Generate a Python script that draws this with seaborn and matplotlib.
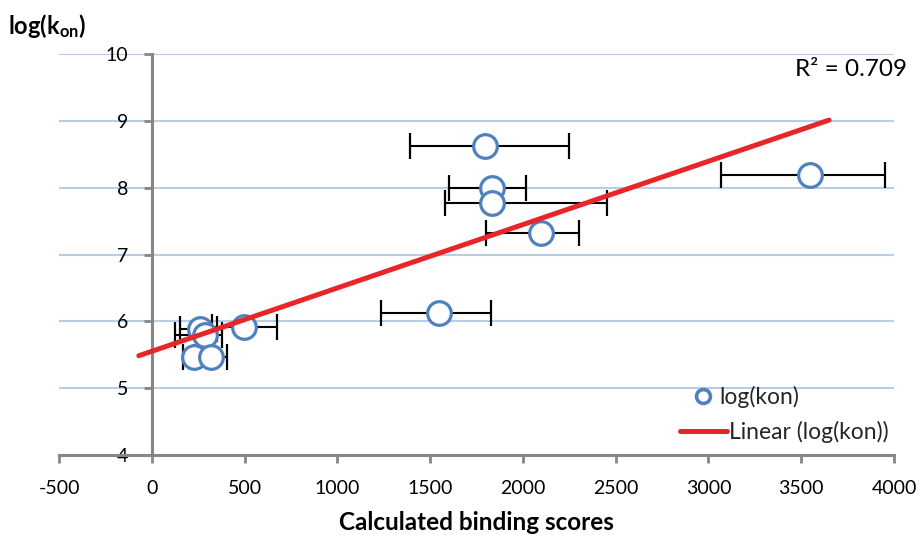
import numpy as np
import pandas as pd
import matplotlib
matplotlib.use("Agg")
import matplotlib.pyplot as plt
import seaborn as sns
from matplotlib.lines import Line2D

# ---- data ----
scores = [1795, 1831, 1831, 2100, 3547, 1547, 495, 258, 285, 225, 318]
log_kon = [8.62, 8.00, 7.78, 7.33, 8.19, 6.12, 5.92, 5.89, 5.79, 5.47, 5.47]
err_low = [401, 229, 252, 301, 481, 313, 170, 107, 161, 58, 89]
err_high = [454, 188, 620, 202, 403, 280, 179, 92, 92, 104, 86]
fit_range = [-70, 3650]
r2_label = "R² = 0.709"
x_ticks = [-500, 0, 500, 1000, 1500, 2000, 2500, 3000, 3500, 4000]
y_ticks = [4, 5, 6, 7, 8, 9, 10]
series_label = "log(kon)"
fit_label = "Linear (log(kon))"
x_title = "Calculated binding scores"

df = pd.DataFrame({"score": scores, "logkon": log_kon})
slope, intercept = np.polyfit(df["score"], df["logkon"], 1)
fit_df = pd.DataFrame({"score": fit_range})
fit_df["logkon"] = intercept + slope * fit_df["score"]

sns.set_theme(style="white")
plt.rcParams["font.family"] = ["Lato", "DejaVu Sans"]
plt.rcParams["mathtext.fontset"] = "custom"
plt.rcParams["mathtext.rm"] = "Lato"
plt.rcParams["mathtext.bf"] = "Lato:bold"

BLUE = "#4F81BD"
RED = "#E8262A"
GRID = "#B9CDE5"
AXC = "#878787"
FS = 14
TFS = 16.5

fig = plt.figure(figsize=(9.23, 5.38), dpi=100)
ax = fig.add_axes([59 / 923, 1 - 455 / 538, (894 - 59) / 923, (455 - 54.3) / 538])

for s in ["top", "right"]:
    ax.spines[s].set_visible(False)
ax.spines["left"].set_position(("data", 0))

ax.errorbar(df["score"], df["logkon"], xerr=[err_low, err_high], fmt="none",
            ecolor="black", elinewidth=1.5, capsize=9.5, capthick=1.6, zorder=2)
sns.scatterplot(data=df, x="score", y="logkon", ax=ax, marker="o", s=290,
                facecolor="white", edgecolor=BLUE, linewidth=2.3, zorder=3,
                legend=False)
sns.lineplot(data=fit_df, x="score", y="logkon", ax=ax, color=RED, linewidth=3.6,
             zorder=4, legend=False)

ax.set_xlim(-500, 4000)
ax.set_ylim(4, 10)
ax.set_xticks(x_ticks)
ax.set_yticks(y_ticks)
ax.set_xticklabels([str(v) for v in x_ticks])
ax.set_yticklabels([str(v) for v in y_ticks])
ax.set_xlabel("")
ax.set_ylabel("")

for v in y_ticks[1:]:
    ax.axhline(v, color=GRID, linewidth=1.5, zorder=0)

for s in ["left", "bottom"]:
    ax.spines[s].set_color(AXC)
    ax.spines[s].set_linewidth(2.2)
    ax.spines[s].set_zorder(1)
ax.tick_params(axis="x", direction="out", length=6, width=2, color=AXC, pad=12,
               bottom=True, labelcolor="black", labelsize=FS)
ax.tick_params(axis="y", direction="out", length=6, width=2, color=AXC, pad=11,
               left=True, labelcolor="black", labelsize=FS)

fig.text(907 / 923, 1 - 70 / 538, r2_label, ha="right", va="center",
         fontsize=17.5, color="black")

fig.text(8 / 923, 1 - 26 / 538, r"$\mathbf{log(k_{on})}$", ha="left", va="center",
         fontsize=17, color="black")
fig.text(476 / 923, 1 - 522 / 538, x_title, ha="center", va="center",
         fontsize=17.5, fontweight="bold", color="black")

h1 = Line2D([], [], marker="o", linestyle="none", markersize=10,
            markerfacecolor="white", markeredgecolor=BLUE, markeredgewidth=2.6)
h2 = Line2D([], [], color=RED, linewidth=3.6)
leg1 = ax.legend([h1], [series_label], loc="center left", frameon=False,
                 bbox_to_anchor=(693 / 923, 1 - 397 / 538), bbox_transform=fig.transFigure,
                 fontsize=TFS, handlelength=0.9, handletextpad=0.25, borderpad=0,
                 borderaxespad=0)
ax.add_artist(leg1)
ax.legend([h2], [fit_label], loc="center left", frameon=False,
          bbox_to_anchor=(680 / 923, 1 - 432 / 538), bbox_transform=fig.transFigure,
          fontsize=TFS, handlelength=2.06, handletextpad=0.08, borderpad=0,
          borderaxespad=0)

fig.savefig("out.png", dpi=100)
